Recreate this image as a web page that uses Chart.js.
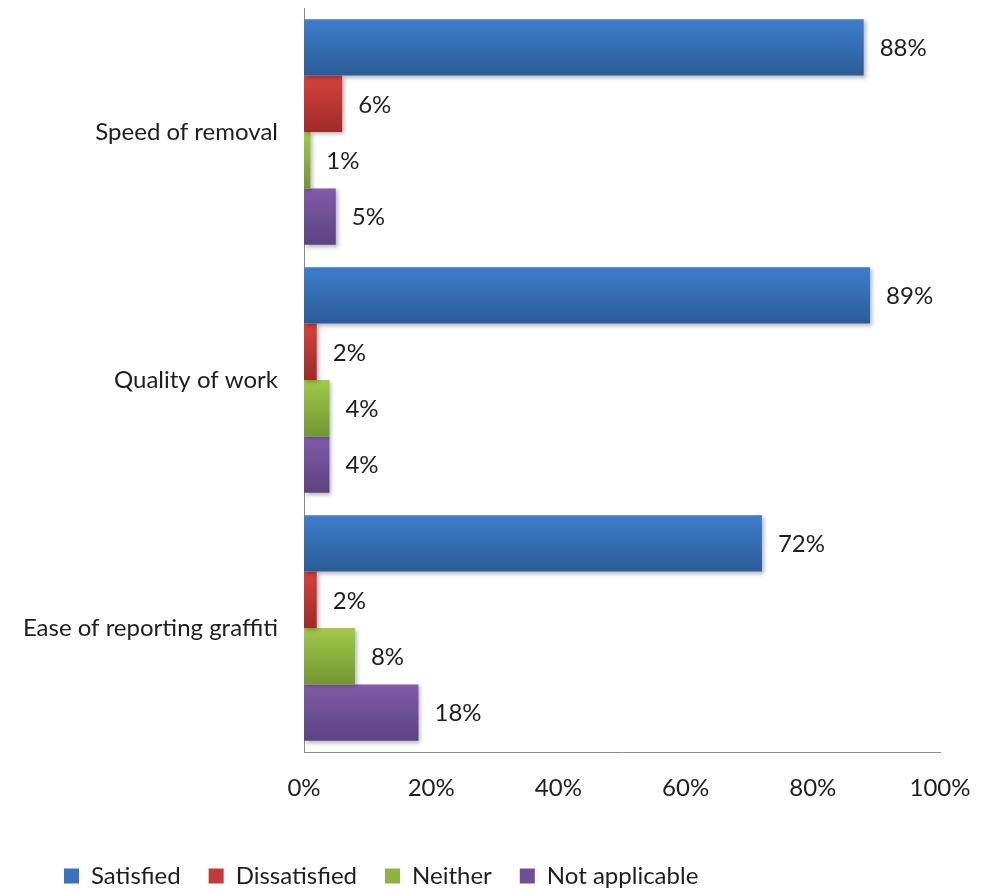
<!DOCTYPE html>
<html>
<head>
<meta charset="utf-8">
<script src="https://cdn.jsdelivr.net/npm/chart.js@4/dist/chart.umd.min.js"></script>
<style>
    html, body { margin: 0; padding: 0; background: #fff; }
    #wrap { width: 982px; height: 890px; }
</style>
</head>
<body>
<div id="wrap"><canvas id="survey"></canvas></div>
<script>
const categories = ['Speed of removal', 'Quality of work', 'Ease of reporting graffiti'];
const satisfied = [88, 89, 72];
const dissatisfied = [6, 2, 2];
const neither = [1, 4, 8];
const notApplicable = [5, 4, 18];
const seriesNames = ['Satisfied', 'Dissatisfied', 'Neither', 'Not applicable'];

// top / bottom colours for the bar gradients, plus a flat one for the legend
const palette = [
    { top: 'rgb(60,126,204)', bottom: 'rgb(44,92,152)', flat: '#3a73bd' },
    { top: 'rgb(214,66,62)', bottom: 'rgb(160,42,40)', flat: '#c33b37' },
    { top: 'rgb(162,202,74)', bottom: 'rgb(114,150,50)', flat: '#8db43f' },
    { top: 'rgb(130,92,170)', bottom: 'rgb(92,66,128)', flat: '#704f98' }
];

const FONT = 'Lato';
const FONT_SIZE = 24;
const TEXT = '#1e1e1e';
const LEGEND_SHIFT = 36;

// paint each bar with a vertical gradient and a soft drop shadow
const barStyle = {
    id: 'barStyle',
    afterLayout(chart) {
        // nudge the legend row to the right
        chart.legend.left += LEGEND_SHIFT;
        chart.legend.right += LEGEND_SHIFT;
    },
    beforeDatasetsDraw(chart) {
        const ctx = chart.ctx;
        chart.data.datasets.forEach((ds, i) => {
            const meta = chart.getDatasetMeta(i);
            meta.data.forEach(el => {
                const top = el.y - el.height / 2;
                const g = ctx.createLinearGradient(0, top, 0, top + el.height);
                g.addColorStop(0, palette[i].top);
                g.addColorStop(1, palette[i].bottom);
                el.options = Object.assign({}, el.options, { backgroundColor: g });
            });
        });
        ctx.save();
        ctx.shadowColor = 'rgba(0,0,0,0.28)';
        ctx.shadowBlur = 4;
        ctx.shadowOffsetX = 2;
        ctx.shadowOffsetY = 2;
    },
    afterDatasetsDraw(chart) {
        const ctx = chart.ctx;
        ctx.restore();
        // value labels at the end of each bar
        ctx.save();
        ctx.font = FONT_SIZE + 'px ' + FONT;
        ctx.fillStyle = TEXT;
        ctx.textAlign = 'left';
        ctx.textBaseline = 'middle';
        chart.data.datasets.forEach((ds, i) => {
            chart.getDatasetMeta(i).data.forEach((el, j) => {
                ctx.fillText(ds.data[j] + '%', el.x + 16, el.y + 1);
            });
        });
        ctx.restore();
    }
};

const series = [satisfied, dissatisfied, neither, notApplicable];

const ctx = document.getElementById('survey').getContext('2d');
new Chart(ctx, {
    type: 'bar',
    data: {
        labels: categories,
        datasets: series.map((values, i) => ({
            label: seriesNames[i],
            data: values,
            backgroundColor: palette[i].flat,
            borderWidth: 0,
            categoryPercentage: 0.91,
            barPercentage: 1.0
        }))
    },
    options: {
        indexAxis: 'y',
        responsive: true,
        maintainAspectRatio: false,
        animation: false,
        layout: {
            padding: { top: 8, right: 42, bottom: 0, left: 0 }
        },
        scales: {
            x: {
                min: 0,
                max: 100,
                ticks: {
                    stepSize: 20,
                    padding: 22,
                    color: TEXT,
                    font: { family: FONT, size: FONT_SIZE },
                    callback: v => v + '%'
                },
                grid: { display: false, drawTicks: false },
                border: { display: true, color: '#8c8c8c', width: 1 },
                afterFit(scale) {
                    scale.height = 84;
                    scale.paddingLeft = 0;
                    scale.paddingRight = 0;
                }
            },
            y: {
                ticks: {
                    padding: 26,
                    color: TEXT,
                    font: { family: FONT, size: FONT_SIZE }
                },
                grid: { display: false, drawTicks: false },
                border: { display: true, color: '#8c8c8c', width: 1 },
                afterFit(scale) {
                    scale.width = 304;
                    scale.paddingTop = 0;
                    scale.paddingBottom = 0;
                }
            }
        },
        plugins: {
            legend: {
                position: 'bottom',
                align: 'start',
                maxHeight: 54,
                labels: {
                    boxWidth: 15,
                    boxHeight: 15,
                    padding: 28,
                    color: TEXT,
                    font: { family: FONT, size: FONT_SIZE }
                }
            },
            tooltip: { enabled: false }
        }
    },
    plugins: [barStyle]
});
</script>
</body>
</html>
